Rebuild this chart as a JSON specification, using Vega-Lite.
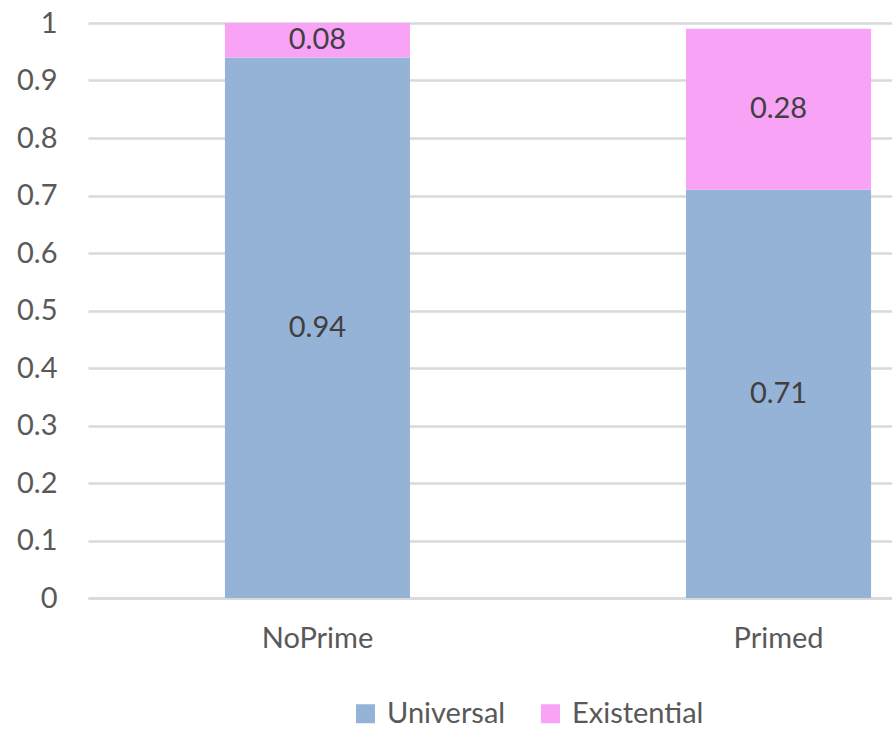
{
  "$schema": "https://vega.github.io/schema/vega-lite/v6.json",
  "autosize": {"type": "none"},
  "width": 804,
  "height": 575,
  "padding": {"left": 88, "top": 23, "right": 0, "bottom": 133},
  "background": "white",
  "config": {
    "view": {"stroke": null},
    "font": "Lato",
    "text": {"font": "Lato"}
  },
  "data": {
    "values": [
      {"condition": "NoPrime", "type": "Universal", "value": 0.94},
      {"condition": "NoPrime", "type": "Existential", "value": 0.08},
      {"condition": "Primed", "type": "Universal", "value": 0.71},
      {"condition": "Primed", "type": "Existential", "value": 0.28}
    ]
  },
  "transform": [
    {"calculate": "datum.type === 'Universal' ? 0 : 1", "as": "order"},
    {"stack": "value", "groupby": ["condition"], "sort": [{"field": "order", "order": "ascending"}], "as": ["v0", "v1"]},
    {"calculate": "(datum.v0 + min(datum.v1, 1)) / 2", "as": "mid"}
  ],
  "encoding": {
    "x": {
      "field": "condition",
      "type": "nominal",
      "sort": ["NoPrime", "Primed"],
      "scale": {"range": [0, 920], "paddingInner": 0.5987, "paddingOuter": 0.297},
      "axis": {
        "title": null,
        "labelAngle": 0,
        "labelFontSize": 29,
        "labelColor": "#595959",
        "labelPadding": 26,
        "ticks": false,
        "domain": true,
        "domainColor": "#D9D9D9",
        "domainWidth": 2.5,
        "grid": false
      }
    }
  },
  "layer": [
    {
      "mark": {"type": "bar", "clip": true},
      "encoding": {
        "y": {
          "field": "v0",
          "type": "quantitative",
          "scale": {"domain": [0, 1]},
          "axis": {
            "title": null,
            "values": [0, 0.1, 0.2, 0.3, 0.4, 0.5, 0.6, 0.7, 0.8, 0.9, 1],
            "format": "~g",
            "labelFontSize": 29,
            "labelColor": "#595959",
            "labelPadding": 31,
            "ticks": false,
            "domain": false,
            "gridColor": "#D9D9D9",
            "gridWidth": 2.5
          }
        },
        "y2": {"field": "v1"},
        "color": {
          "field": "type",
          "type": "nominal",
          "sort": ["Universal", "Existential"],
          "scale": {"domain": ["Universal", "Existential"], "range": ["#95B3D7", "#F9A3F7"]},
          "legend": {
            "title": null,
            "orient": "none",
            "direction": "horizontal",
            "legendX": 263,
            "legendY": 676,
            "symbolType": "square",
            "symbolSize": 361,
            "symbolStrokeWidth": 0,
            "labelFontSize": 29,
            "labelColor": "#595959",
            "labelOffset": 7,
            "columnPadding": 30,
            "padding": 0
          }
        }
      }
    },
    {
      "mark": {"type": "text", "fontSize": 29, "color": "#404040", "baseline": "middle", "align": "center"},
      "encoding": {
        "y": {"field": "mid", "type": "quantitative", "scale": {"domain": [0, 1]}},
        "text": {"field": "value", "type": "quantitative", "format": ".2f"}
      }
    }
  ]
}
